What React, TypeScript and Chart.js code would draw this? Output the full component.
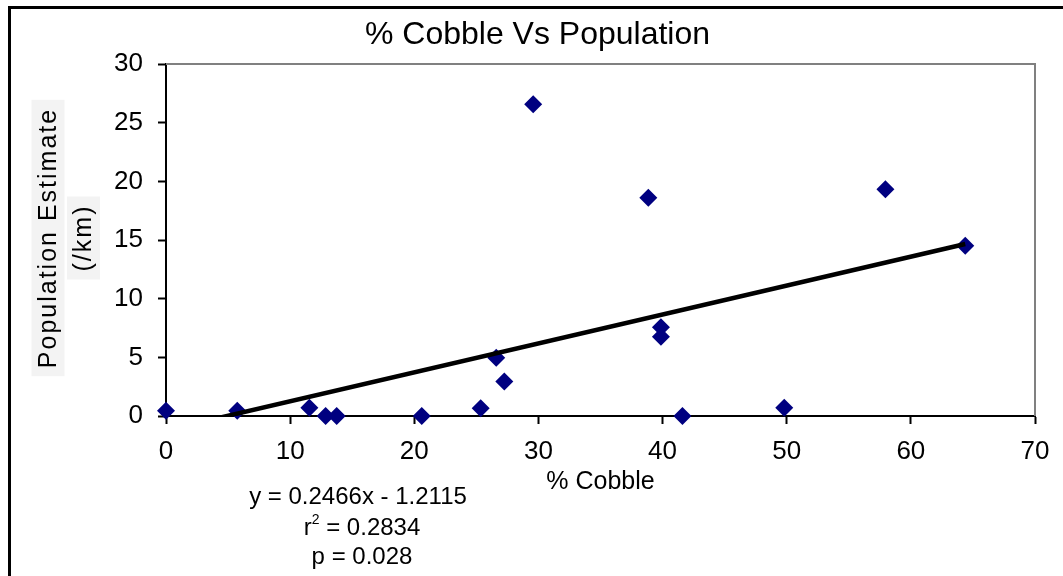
import { useEffect, useRef } from "react";
import { Chart, registerables } from "chart.js";

Chart.register(...registerables);

// ---- data ----
const cobblePct = [0, 5.74, 11.55, 12.86, 13.75, 20.6, 25.35, 26.6, 27.25, 29.58, 38.85, 39.87, 39.87, 41.6, 49.8, 57.95, 64.38];
const populationEstimate = [0.45, 0.45, 0.71, 0, 0, 0, 0.65, 4.97, 2.93, 26.57, 18.61, 7.56, 6.76, 0, 0.71, 19.33, 14.52];

// displayed linear trendline: y = 0.2466x - 1.2115
const trendSlope = 0.2466;
const trendIntercept = -1.2115;

const chartTitle = "% Cobble Vs Population";
const xAxisTitle = "% Cobble";
const yAxisTitleLines = ["Population Estimate", "(/km)"];
const equationLine = "y = 0.2466x - 1.2115";
const rSquaredValue = "0.2834";
const pValueLine = "p = 0.028";

const FONT = "'Liberation Sans', Arial, Helvetica, sans-serif";

const decorPlugin = {
  id: "decor",
  beforeDatasetsDraw(chart: any) {
    const { ctx, chartArea: a } = chart;
    ctx.save();
    ctx.strokeStyle = "#808080";
    ctx.lineWidth = 2;
    ctx.beginPath();
    ctx.moveTo(a.left, a.top);
    ctx.lineTo(a.right, a.top);
    ctx.lineTo(a.right, a.bottom);
    ctx.stroke();
    ctx.restore();
  },
  afterDraw(chart: any) {
    const { ctx, chartArea: a } = chart;
    ctx.save();
    // rotated y-axis title with light backgrounds
    const cy = (a.top + a.bottom) / 2 - 2;
    const centersX = [48, 83.5];
    ctx.font = `25px ${FONT}`;
    (ctx as any).letterSpacing = "2px";
    yAxisTitleLines.forEach((line, i) => {
      const w = ctx.measureText(line).width;
      ctx.save();
      ctx.translate(centersX[i], cy);
      ctx.rotate(-Math.PI / 2);
      ctx.fillStyle = "#f3f3f3";
      ctx.fillRect(-w / 2 - 8, -16.5, w + 16, 33);
      ctx.fillStyle = "#000";
      ctx.textAlign = "center";
      ctx.textBaseline = "middle";
      ctx.fillText(line, 0, 1);
      ctx.restore();
    });
    (ctx as any).letterSpacing = "0px";

    // regression annotation
    ctx.fillStyle = "#000";
    ctx.textBaseline = "middle";
    ctx.textAlign = "left";
    const big = `24px ${FONT}`;
    const small = `14px ${FONT}`;
    ctx.font = big;
    let w = ctx.measureText(equationLine).width;
    ctx.fillText(equationLine, 358 - w / 2, 497);

    const rest = " = " + rSquaredValue;
    ctx.font = big;
    const wr = ctx.measureText("r").width;
    const wrest = ctx.measureText(rest).width;
    ctx.font = small;
    const w2 = ctx.measureText("2").width;
    const total = wr + w2 + wrest;
    let x = 362 - total / 2;
    ctx.font = big;
    ctx.fillText("r", x, 528);
    x += wr;
    ctx.font = small;
    ctx.fillText("2", x, 520);
    x += w2;
    ctx.font = big;
    ctx.fillText(rest, x, 528);

    w = ctx.measureText(pValueLine).width;
    ctx.fillText(pValueLine, 362 - w / 2, 557);

    // outer frame
    ctx.strokeStyle = "#000";
    ctx.lineWidth = 3;
    ctx.strokeRect(9.5, 7.5, 1300, 1300);
    ctx.restore();
  },
};

export default function App() {
  const ref = useRef<HTMLCanvasElement | null>(null);

  useEffect(() => {
    if (!ref.current) return;
    const points = cobblePct.map((x, i) => ({ x, y: populationEstimate[i] }));
    const xMin = Math.min(...cobblePct);
    const xMax = Math.max(...cobblePct);
    const trend = [
      { x: xMin, y: trendSlope * xMin + trendIntercept },
      { x: xMax, y: trendSlope * xMax + trendIntercept },
    ];

    const chart = new Chart(ref.current, {
      type: "scatter",
      data: {
        datasets: [
          {
            label: "Population",
            data: points,
            pointStyle: "rectRot",
            pointRadius: 9,
            pointHoverRadius: 9,
            backgroundColor: "#000080",
            borderColor: "#000080",
            borderWidth: 0,
            clip: false as any,
            order: 1,
          },
          {
            type: "line" as any,
            label: "Trend",
            data: trend,
            showLine: true,
            borderColor: "#000",
            borderWidth: 4.5,
            pointRadius: 0,
            fill: false,
            clip: 0 as any,
            order: 0,
          } as any,
        ],
      },
      options: {
        animation: false,
        responsive: true,
        maintainAspectRatio: false,
        layout: { padding: { left: 40, right: 28, top: 0, bottom: 0 } },
        plugins: {
          legend: { display: false },
          tooltip: { enabled: false },
          title: {
            display: true,
            text: chartTitle,
            color: "#000",
            font: { family: FONT, size: 32, weight: "normal" as any, lineHeight: 1.2 },
            padding: { top: 15.5, bottom: 64 - 15.5 - 32 * 1.2 },
          },
        },
        scales: {
          x: {
            type: "linear",
            min: 0,
            max: 70,
            ticks: { stepSize: 10, color: "#000", font: { family: FONT, size: 26 }, padding: 12, maxRotation: 0 },
            grid: { drawOnChartArea: false, drawTicks: true, tickLength: 8, tickWidth: 2, tickColor: "#000" },
            border: { color: "#000", width: 2 },
            title: {
              display: true,
              text: xAxisTitle,
              color: "#000",
              font: { family: FONT, size: 25, lineHeight: 1.2 },
              padding: { top: 0, bottom: 79 },
            },
            afterFit(scale: any) {
              scale.height = 160;
            },
          },
          y: {
            type: "linear",
            min: 0,
            max: 30,
            ticks: { stepSize: 5, color: "#000", font: { family: FONT, size: 26 }, padding: 15 },
            grid: { drawOnChartArea: false, drawTicks: true, tickLength: 8, tickWidth: 2, tickColor: "#000" },
            border: { color: "#000", width: 2 },
            afterFit(scale: any) {
              scale.width = 126;
            },
          },
        },
      },
      plugins: [decorPlugin],
    });
    return () => chart.destroy();
  }, []);

  return (
    <div style={{ position: "fixed", left: 0, top: 0, width: 1063, height: 576, background: "#fff" }}>
      <canvas ref={ref} />
    </div>
  );
}
